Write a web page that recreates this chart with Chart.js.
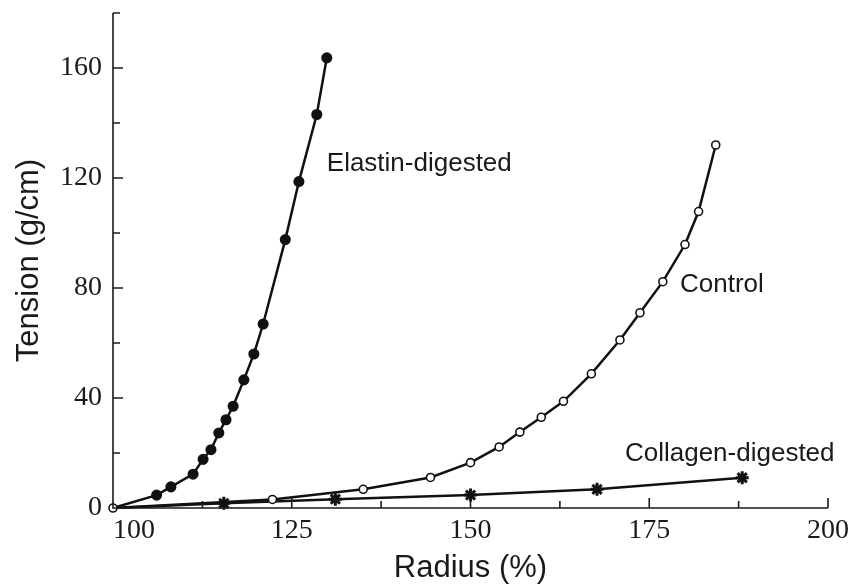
<!DOCTYPE html>
<html>
<head>
<meta charset="utf-8">
<script src="https://cdn.jsdelivr.net/npm/chart.js@4"></script>
<style>
  html, body { margin: 0; padding: 0; background: #fff; }
  canvas { display: block; }
</style>
</head>
<body>
<canvas id="chart" width="853" height="588"></canvas>
<script>
// values: radius (%) vs tension (g/cm)
const elastinRadius = [100, 106.1, 108.1, 111.2, 112.6, 113.7, 114.8, 115.8, 116.8, 118.3, 119.7, 121.0, 124.1, 126.0, 128.5, 129.9];
const elastinTension = [0, 4.7, 7.7, 12.3, 17.7, 21.2, 27.3, 32.1, 37.0, 46.6, 56.0, 66.9, 97.6, 118.7, 143.1, 163.7];

const controlRadius = [100, 122.3, 135.0, 144.4, 150.0, 154.0, 156.9, 159.9, 163.0, 166.9, 170.9, 173.7, 176.9, 180.0, 181.9, 184.3];
const controlTension = [0, 3.1, 6.8, 11.1, 16.5, 22.2, 27.6, 33.0, 38.8, 48.8, 61.1, 71.0, 82.3, 95.8, 107.8, 132.0];

const collagenRadius = [100, 115.5, 131.1, 150.0, 167.7, 188.0];
const collagenTension = [0, 1.7, 3.2, 4.7, 6.8, 11.0];

const xTicks = [100, 125, 150, 175, 200];
const yTicks = [0, 40, 80, 120, 160];

// curve names written next to the curves (anchor in data units)
const notes = [
  { text: 'Elastin-digested', x: 129.9, y: 122.6 },
  { text: 'Control', x: 179.3, y: 78.6 },
  { text: 'Collagen-digested', x: 171.6, y: 17.1 },
];

const toPoints = (xs, ys) => xs.map((x, i) => ({ x: x, y: ys[i] }));

// inward tick marks and axis lines, like the original plot
const axesPlugin = {
  id: 'axes',
  afterDraw(chart) {
    const { ctx } = chart;
    const xs = chart.scales.x, ys = chart.scales.y;
    const x0 = xs.getPixelForValue(100), x1 = xs.getPixelForValue(200);
    const y0 = ys.getPixelForValue(0), y1 = ys.getPixelForValue(180);
    ctx.save();
    ctx.strokeStyle = '#1a1a1a';
    ctx.lineWidth = 1.6;
    ctx.beginPath();
    ctx.moveTo(x0, y1); ctx.lineTo(x0, y0); ctx.lineTo(x1, y0);
    // y ticks every 20, long ones at 40
    for (let v = 20; v <= 180; v += 20) {
      const p = ys.getPixelForValue(v);
      ctx.moveTo(x0, p); ctx.lineTo(x0 + (v % 40 === 0 ? 10 : 7), p);
    }
    // x ticks every 12.5, long ones at 25
    for (let v = 112.5; v <= 200; v += 12.5) {
      const p = xs.getPixelForValue(v);
      ctx.moveTo(p, y0); ctx.lineTo(p, y0 - (v % 25 === 0 ? 10 : 7));
    }
    ctx.stroke();

    ctx.fillStyle = '#1a1a1a';
    ctx.font = '26px "Liberation Sans", Arial, sans-serif';
    ctx.textBaseline = 'alphabetic';
    ctx.textAlign = 'left';
    notes.forEach(n => {
      ctx.fillText(n.text, xs.getPixelForValue(n.x), ys.getPixelForValue(n.y));
    });
    ctx.restore();
  }
};

const skipFirst = r => ctx => ctx.dataIndex === 0 ? 0 : r;

new Chart(document.getElementById('chart'), {
  type: 'scatter',
  data: {
    datasets: [
      {
        label: 'Control',
        data: toPoints(controlRadius, controlTension),
        showLine: true,
        clip: false,
        borderColor: '#111',
        borderWidth: 2.5,
        pointStyle: 'circle',
        pointRadius: 4,
        pointBorderWidth: 1.6,
        pointBackgroundColor: '#fff',
        pointBorderColor: '#111',
        tension: 0,
        order: 0,
      },
      {
        label: 'Elastin-digested',
        data: toPoints(elastinRadius, elastinTension),
        showLine: true,
        clip: false,
        borderColor: '#111',
        borderWidth: 2.5,
        pointStyle: 'circle',
        pointRadius: skipFirst(4.3),
        pointBackgroundColor: '#111',
        pointBorderColor: '#111',
        tension: 0,
        order: 1,
      },
      {
        label: 'Collagen-digested',
        data: toPoints(collagenRadius, collagenTension),
        showLine: true,
        clip: false,
        borderColor: '#111',
        borderWidth: 2.5,
        pointStyle: 'star',
        pointRadius: skipFirst(6.5),
        pointBorderWidth: 3,
        pointBorderColor: '#111',
        tension: 0,
        order: 2,
      },
    ],
  },
  options: {
    responsive: false,
    animation: false,
    devicePixelRatio: 1,
    layout: { padding: { top: 13, right: 25, left: 0, bottom: 0 } },
    plugins: {
      legend: { display: false },
      tooltip: { enabled: false },
    },
    scales: {
      x: {
        type: 'linear',
        min: 100,
        max: 200,
        afterFit: s => { s.height = 80; s.paddingLeft = 0; s.paddingRight = 0; },
        afterBuildTicks: s => { s.ticks = xTicks.map(v => ({ value: v })); },
        grid: { display: false, drawTicks: false },
        border: { display: false },
        ticks: {
          padding: 6,
          color: '#1a1a1a',
          font: { family: '"Liberation Serif", "Times New Roman", serif', size: 28 },
          callback: v => v === 100 ? '\u2007\u2007\u2007100' : String(v),
        },
        title: {
          display: true,
          text: 'Radius (%)',
          color: '#1a1a1a',
          font: { family: '"Liberation Sans", Arial, sans-serif', size: 31 },
          padding: { top: 0, bottom: 1 },
        },
      },
      y: {
        type: 'linear',
        min: 0,
        max: 180,
        afterFit: s => { s.width = 113; s.paddingTop = 0; s.paddingBottom = 0; },
        afterBuildTicks: s => { s.ticks = yTicks.map(v => ({ value: v })); },
        grid: { display: false, drawTicks: false },
        border: { display: false },
        ticks: {
          padding: 11,
          color: '#1a1a1a',
          font: { family: '"Liberation Serif", "Times New Roman", serif', size: 28 },
        },
        title: {
          display: true,
          text: 'Tension (g/cm)',
          color: '#1a1a1a',
          font: { family: '"Liberation Sans", Arial, sans-serif', size: 31 },
          padding: { top: 11, bottom: 0 },
        },
      },
    },
  },
  plugins: [axesPlugin],
});
</script>
</body>
</html>
